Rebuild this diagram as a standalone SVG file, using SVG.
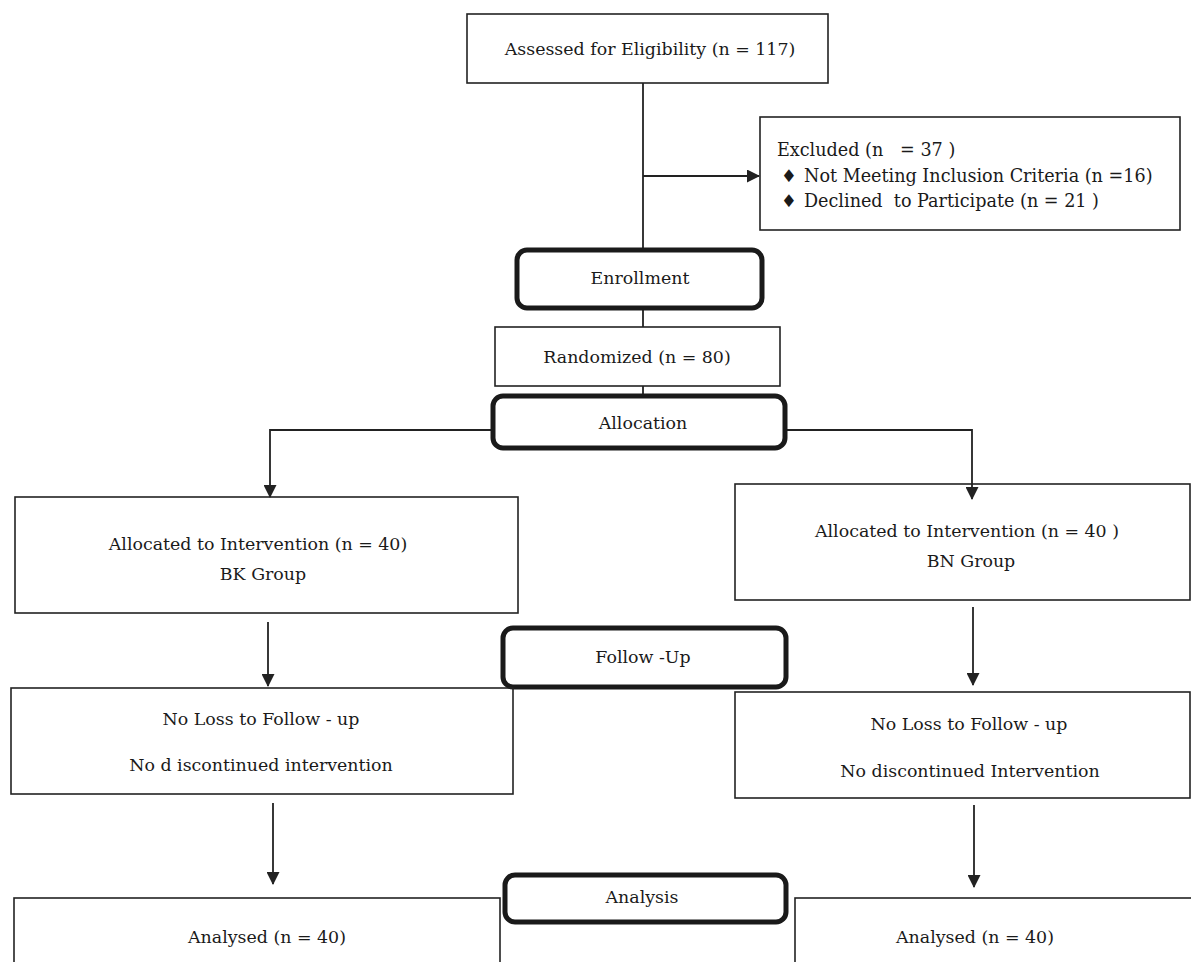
<svg xmlns="http://www.w3.org/2000/svg" width="1191" height="962" viewBox="0 0 1191 962">
<style>
.box{fill:none;stroke:#222;stroke-width:1.6}
.rbox{fill:none;stroke:#1a1a1a;stroke-width:5}
.t{font-family:"DejaVu Serif","Liberation Serif",serif;font-size:17.4px;fill:#1a1a1a;text-anchor:middle}
.tl{font-family:"DejaVu Serif","Liberation Serif",serif;font-size:17.6px;fill:#1a1a1a}
.c{fill:none;stroke:#222;stroke-width:1.8}
</style>
<defs>
<marker id="ah" markerWidth="13" markerHeight="13" refX="12" refY="6.5" orient="auto" markerUnits="userSpaceOnUse">
<path d="M0,0 L13,6.5 L0,13 Z" fill="#222"/>
</marker>
</defs>
<rect width="1191" height="962" fill="#fff"/>
<g id="connectors">
<path class="c" d="M643,83 V250"/>
<path class="c" d="M643,176 H759" marker-end="url(#ah)"/>
<path class="c" d="M643,308 V327"/>
<path class="c" d="M643,386 V396"/>
<path class="c" d="M493,430 H270 V497" marker-end="url(#ah)"/>
<path class="c" d="M785,430 H972 V499" marker-end="url(#ah)"/>
<path class="c" d="M268,622 V686" marker-end="url(#ah)"/>
<path class="c" d="M973,607 V685" marker-end="url(#ah)"/>
<path class="c" d="M273,803 V884" marker-end="url(#ah)"/>
<path class="c" d="M974,805 V887" marker-end="url(#ah)"/>
</g>
<g id="assessed">
<rect class="box" x="467" y="14" width="361" height="69"/>
<text class="t" x="650" y="55">Assessed for Eligibility (n = 117)</text>
</g>
<g id="excluded">
<rect class="box" x="760" y="117" width="420" height="113"/>
<text class="tl" x="777" y="156" xml:space="preserve">Excluded (n   = 37 )</text>
<text class="tl" x="781" y="182" font-size="11">♦</text>
<text class="tl" x="804" y="182">Not Meeting Inclusion Criteria (n =16)</text>
<text class="tl" x="781" y="207" font-size="11">♦</text>
<text class="tl" x="804" y="207" xml:space="preserve">Declined  to Participate (n = 21 )</text>
</g>
<g id="enrollment">
<rect class="rbox" x="517" y="250" width="245" height="58" rx="10"/>
<text class="t" x="640" y="284">Enrollment</text>
</g>
<g id="randomized">
<rect class="box" x="495" y="327" width="285" height="59"/>
<text class="t" x="637" y="363">Randomized (n = 80)</text>
</g>
<g id="allocation">
<rect class="rbox" x="493" y="396" width="292" height="52" rx="10"/>
<text class="t" x="643" y="429">Allocation</text>
</g>
<g id="alloc-bk">
<rect class="box" x="15" y="497" width="503" height="116"/>
<text class="t" x="258" y="550">Allocated to Intervention (n = 40)</text>
<text class="t" x="263" y="580">BK Group</text>
</g>
<g id="alloc-bn">
<rect class="box" x="735" y="484" width="455" height="116"/>
<text class="t" x="967" y="537">Allocated to Intervention (n = 40 )</text>
<text class="t" x="971" y="567">BN Group</text>
</g>
<g id="followup">
<rect class="rbox" x="503" y="628" width="283" height="59" rx="10"/>
<text class="t" x="643" y="663">Follow -Up</text>
</g>
<g id="noloss-bk">
<rect class="box" x="11" y="688" width="502" height="106"/>
<text class="t" x="261" y="725">No Loss to Follow - up</text>
<text class="t" x="261" y="771">No d iscontinued intervention</text>
</g>
<g id="noloss-bn">
<rect class="box" x="735" y="692" width="455" height="106"/>
<text class="t" x="969" y="730">No Loss to Follow - up</text>
<text class="t" x="970" y="777">No discontinued Intervention</text>
</g>
<g id="analysis">
<rect class="rbox" x="505" y="875" width="281" height="47" rx="10"/>
<text class="t" x="642" y="903">Analysis</text>
</g>
<g id="analysed-bk">
<rect class="box" x="14" y="898" width="486" height="80"/>
<text class="t" x="267" y="943">Analysed (n = 40)</text>
</g>
<g id="analysed-bn">
<rect class="box" x="795" y="898" width="410" height="80"/>
<text class="t" x="975" y="943">Analysed (n = 40)</text>
</g>
</svg>
